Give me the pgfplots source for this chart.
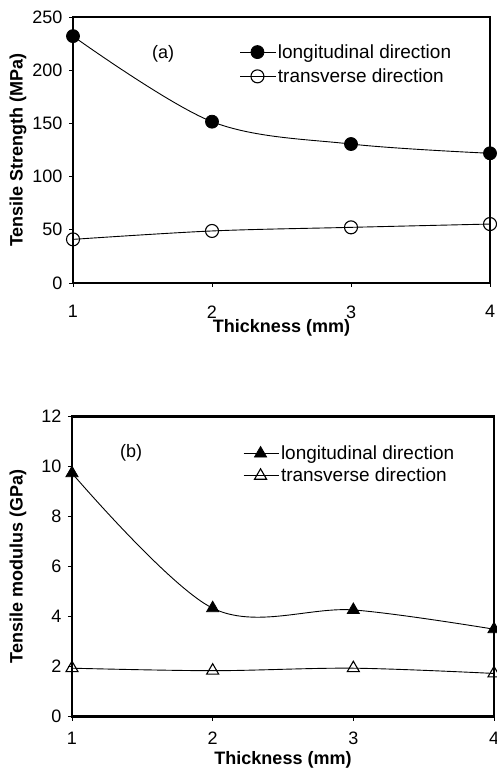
\documentclass[border=0pt]{standalone}
\usepackage{fontspec}
\setmainfont{Liberation Sans}
\usepackage{pgfplots}
\pgfplotsset{compat=1.18}
\pgfplotsset{
  panel/.style={
    scale only axis,
    anchor=south west,
    axis line style={line width=2.5pt},
    xmin=1, xmax=4, xtick={1,2,3,4},
    tick align=outside, major tick length=4pt,
    tick style={line width=0.6pt, black},
    xtick pos=bottom, ytick pos=left,
    /pgf/number format/assume math mode=true,
    ticklabel style={font=\fontsize{18}{21}\selectfont},
    yticklabel style={xshift=-3pt},
    label style={font=\bfseries\fontsize{18}{21}\selectfont},
    clip=false,
    legend cell align=left,
    legend style={draw=none, fill=none, font=\fontsize{19}{22}\selectfont, anchor=north west,
      inner sep=0pt},
  },
  ser/.style={black, line width=0.9pt, smooth, tension=0.55,
    legend image code/.code={\draw[mark repeat=2,mark phase=2,##1] plot coordinates {(0pt,0pt)(17pt,0pt)(35pt,0pt)};}},
}
\begin{document}
\begin{tikzpicture}
\begin{axis}[panel, at={(73pt,487pt)}, width=417pt, height=266pt,
  ymin=0, ymax=250, ytick={0,50,100,150,200,250},
  xticklabel style={yshift=-15pt},
  xlabel={Thickness (mm)}, ylabel={Tensile Strength (MPa)},
  xlabel style={at={(axis description cs:0.5,0)}, anchor=center, yshift=-45pt},
  ylabel style={at={(axis description cs:-0.132,0.5)}, anchor=center},
  legend style={at={(axis description cs:0.4,0.905)}, row sep=5pt}]
\addplot[ser, mark=*, mark size=6.5pt, mark options={fill=black, line width=0.8pt}]
  coordinates {(1,232) (2,151.6) (3,130.6) (4,121.9)};
\addlegendentry{longitudinal direction}
\addplot[ser, mark=o, mark size=6.5pt, mark options={fill=white, line width=1.1pt}]
  coordinates {(1,41) (2,48.9) (3,52.3) (4,55.4)};
\addlegendentry{transverse direction}
\node[font=\fontsize{18}{21}\selectfont] at (axis description cs:0.216,0.86) {(a)};
\end{axis}
\begin{axis}[panel, at={(72pt,53.3pt)}, width=422pt, height=300pt,
  ymin=0, ymax=12, ytick={0,2,4,6,8,10,12},
  xticklabel style={yshift=-8pt},
  xlabel={Thickness (mm)}, ylabel={Tensile modulus (GPa)},
  xlabel style={at={(axis description cs:0.5,0)}, anchor=center, yshift=-43pt},
  ylabel style={at={(axis description cs:-0.128,0.5)}, anchor=center},
  legend style={at={(axis description cs:0.405,0.91)}, row sep=3pt}]
\addplot[ser, mark=triangle*, mark size=7pt, mark options={fill=black, line width=0.8pt}]
  coordinates {(1,9.74) (2,4.34) (3,4.27) (4,3.5)};
\addlegendentry{longitudinal direction}
\addplot[ser, mark=triangle, mark size=7pt, mark options={fill=white, line width=1.1pt}]
  coordinates {(1,1.94) (2,1.84) (3,1.94) (4,1.73)};
\addlegendentry{transverse direction}
\node[font=\fontsize{18}{21}\selectfont] at (axis description cs:0.14,0.879) {(b)};
\end{axis}
\pgfresetboundingbox
\useasboundingbox (0pt,0pt) rectangle (496pt,770pt);
\end{tikzpicture}
\end{document}
